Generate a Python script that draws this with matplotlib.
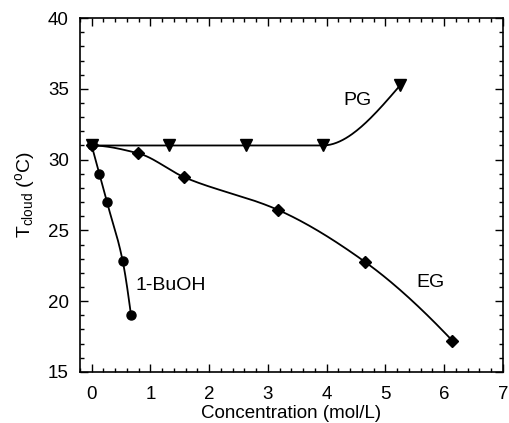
import numpy as np
import matplotlib

matplotlib.use("Agg")
import matplotlib.pyplot as plt
from matplotlib.ticker import MultipleLocator

plt.rcParams["font.family"] = ["Liberation Sans", "DejaVu Sans"]
plt.rcParams["mathtext.fontset"] = "custom"
plt.rcParams["mathtext.rm"] = "Liberation Sans"
plt.rcParams["mathtext.it"] = "Liberation Sans"

# data
pg_conc = [0.0, 1.31, 2.62, 3.93, 5.25]
pg_temp = [31.0, 31.0, 31.0, 31.0, 35.25]

eg_conc = [0.0, 0.79, 1.58, 3.17, 4.66, 6.14]
eg_temp = [31.0, 30.45, 28.75, 26.45, 22.75, 17.2]

buoh_conc = [0.0, 0.13, 0.26, 0.53, 0.67]
buoh_temp = [31.0, 29.0, 27.0, 22.8, 19.0]

x_ticks = [0, 1, 2, 3, 4, 5, 6, 7]
y_ticks = [15, 20, 25, 30, 35, 40]


def pchip(x, y, n=200):
    # monotone cubic curve through the points (smooth guide line)
    x = np.asarray(x, float)
    y = np.asarray(y, float)
    h = np.diff(x)
    delta = np.diff(y) / h
    d = np.zeros_like(y)
    for k in range(1, len(x) - 1):
        if delta[k - 1] * delta[k] <= 0:
            d[k] = 0.0
        else:
            w1 = 2 * h[k] + h[k - 1]
            w2 = h[k] + 2 * h[k - 1]
            d[k] = (w1 + w2) / (w1 / delta[k - 1] + w2 / delta[k])

    def end(h0, h1, m0, m1):
        v = ((2 * h0 + h1) * m0 - h0 * m1) / (h0 + h1)
        if np.sign(v) != np.sign(m0):
            v = 0.0
        elif np.sign(m0) != np.sign(m1) and abs(v) > abs(3 * m0):
            v = 3 * m0
        return v

    d[0] = end(h[0], h[1], delta[0], delta[1])
    d[-1] = end(h[-1], h[-2], delta[-1], delta[-2])
    xs = np.linspace(x[0], x[-1], n)
    idx = np.clip(np.searchsorted(x, xs) - 1, 0, len(h) - 1)
    t = (xs - x[idx]) / h[idx]
    h00 = 2 * t**3 - 3 * t**2 + 1
    h10 = t**3 - 2 * t**2 + t
    h01 = -2 * t**3 + 3 * t**2
    h11 = t**3 - t**2
    ys = h00 * y[idx] + h10 * h[idx] * d[idx] + h01 * y[idx + 1] + h11 * h[idx] * d[idx + 1]
    return xs, ys


fig = plt.figure(figsize=(5.09, 4.23), dpi=100)
ax = fig.add_axes([0.157, 0.121, 0.831, 0.836])

lw = 1.3
for xs, ys, mk, ms in [
    (pg_conc, pg_temp, "v", 8),
    (eg_conc, eg_temp, "D", 6.5),
    (buoh_conc, buoh_temp, "o", 6.5),
]:
    cx, cy = pchip(xs, ys)
    ax.plot(cx, cy, color="black", linewidth=lw)
    ax.plot(xs, ys, linestyle="none", marker=mk, markersize=ms, color="black")

ax.text(4.53, 34.2, "PG", fontsize=14, ha="center", va="center")
ax.text(5.76, 21.3, "EG", fontsize=14, ha="center", va="center")
ax.text(0.75, 21.1, "1-BuOH", fontsize=14, ha="left", va="center")

ax.set_xlim(-0.2, 7)
ax.set_ylim(15, 40)
ax.set_xticks(x_ticks)
ax.set_yticks(y_ticks)
ax.xaxis.set_minor_locator(MultipleLocator(0.2))
ax.yaxis.set_minor_locator(MultipleLocator(1))
ax.tick_params(which="both", direction="in", top=True, right=True, labelsize=13.5, width=1)
ax.tick_params(which="major", length=6)
ax.tick_params(axis="x", which="major", pad=10)
ax.tick_params(axis="y", which="major", pad=8)
ax.tick_params(which="minor", length=3)
for s in ax.spines.values():
    s.set_linewidth(1.2)

ax.set_xlabel("Concentration (mol/L)", fontsize=13.5, labelpad=2)
ax.set_ylabel(r"T$_{\rm cloud}$ ($^{\rm o}$C)", fontsize=14, labelpad=8)

fig.savefig("out.png", dpi=100)
